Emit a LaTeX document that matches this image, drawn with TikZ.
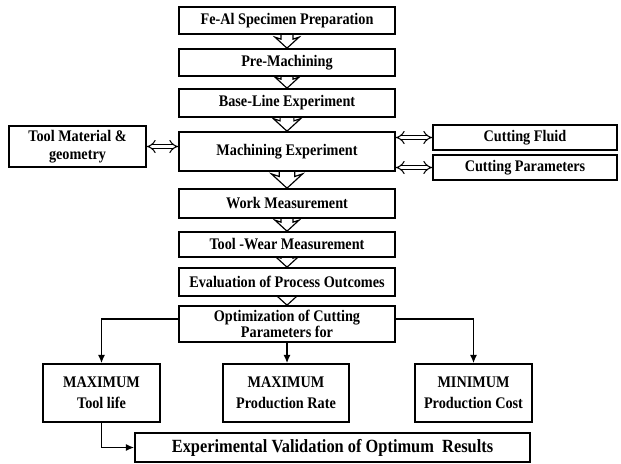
\documentclass[tikz,border=0pt]{standalone}
\usepackage{fontspec}
\setmainfont{Liberation Serif}[FakeStretch=0.88]
\usetikzlibrary{arrows.meta,backgrounds,calc}

\tikzset{
  stage/.style={draw, line width=1.4pt, fill=white, minimum width=6.48cm,
    align=center, inner sep=1pt, font=\fontsize{13.8}{15}\selectfont\bfseries},
  sidebox/.style={draw, line width=1.4pt, fill=white, align=center,
    inner sep=1pt, font=\fontsize{13.8}{15}\selectfont\bfseries},
  blockarrow/.style={draw, fill=white, line width=1pt, line join=miter},
  dblarrow/.style={double, double distance=3pt, line width=0.9pt,
    {Implies}-{Implies}},
  flowline/.style={line width=1.3pt, -{Latex[length=7pt,width=6pt]}}
}
% hollow block arrow from the bottom of #2 to the top of #3 (units are px, #1 = size)
\newcommand{\stagearrow}[3][1]{%
  \draw[blockarrow] ($(#2.south)+(-6*#1,-8)$) -- ($(#3.north)+(-6*#1,-9*#1)$)
    -- ($(#3.north)+(-12*#1,-11*#1)$) -- (#3.north) -- ($(#3.north)+(12*#1,-11*#1)$)
    -- ($(#3.north)+(6*#1,-9*#1)$) -- ($(#2.south)+(6*#1,-8)$) -- cycle;}

\begin{document}
\begin{tikzpicture}[x=0.03cm,y=-0.03cm]
   \useasboundingbox (0,0) rectangle (621,463);
   % main column
   \node[stage, minimum height=0.81cm] (prep) at (287,20.5) {Fe-Al Specimen Preparation};
   \node[stage, minimum height=0.81cm] (premach) at (287,62.5) {Pre-Machining};
   \node[stage, minimum height=0.84cm] (base) at (287,103) {Base-Line Experiment};
   \node[stage, minimum height=1.17cm] (mach) at (287,151.5) {Machining Experiment};
   \node[stage, minimum height=0.87cm] (work) at (287,203.5) {Work Measurement};
   \node[stage, minimum height=0.75cm] (wear) at (287,244.5) {Tool -Wear Measurement};
   \node[stage, minimum height=0.84cm] (eval) at (287,282) {Evaluation of Process Outcomes};
   \node[stage, minimum height=1.08cm] (optim) at (287,324) {Optimization of Cutting\\[-1pt]Parameters for};
   % side inputs
   \node[sidebox, minimum width=4.11cm, minimum height=1.23cm] (toolmat) at (77.5,146.5) {Tool Material \&\\geometry};
   \node[sidebox, minimum width=5.52cm, minimum height=0.75cm] (fluid) at (525,137.5) {Cutting Fluid};
   \node[sidebox, minimum width=5.52cm, minimum height=0.75cm] (params) at (525,167.5) {Cutting Parameters};
   % outcomes
   \node[sidebox, minimum width=3.51cm, minimum height=1.74cm] (life) at (101.5,393) {MAXIMUM\\[3pt]Tool life};
   \node[sidebox, minimum width=3.78cm, minimum height=1.74cm] (rate) at (286,393) {MAXIMUM\\[3pt]Production Rate};
   \node[sidebox, minimum width=3.51cm, minimum height=1.74cm] (cost) at (473.5,393) {MINIMUM\\[3pt]Production Cost};
   \node[sidebox, minimum width=11.85cm, minimum height=0.87cm,
     font=\fontsize{15.9}{17}\selectfont\bfseries] (valid) at (332.5,447.5) {Experimental Validation of Optimum\ \ Results};

   \begin{scope}[on background layer]
   \stagearrow{prep}{premach}
   \stagearrow{premach}{base}
   \stagearrow[1.15]{base}{mach}
   \stagearrow[1.3]{mach}{work}
   \stagearrow{work}{wear}
   \stagearrow{wear}{eval}
   \stagearrow{eval}{optim}
   \end{scope}

   \draw[dblarrow] (toolmat.east) -- (toolmat.east -| mach.west);
   \draw[dblarrow] (mach.east |- fluid.west) -- (fluid.west);
   \draw[dblarrow] (mach.east |- params.west) -- (params.west);

   \draw[flowline] ([yshift=0.15cm]optim.west) -| (life.north);
   \draw[flowline] (optim.south) -- (optim.south |- rate.north);
   \draw[flowline] ([yshift=0.15cm]optim.east) -| (cost.north);
   \draw[flowline] (life.south) |- (valid.west);
\end{tikzpicture}
\end{document}
